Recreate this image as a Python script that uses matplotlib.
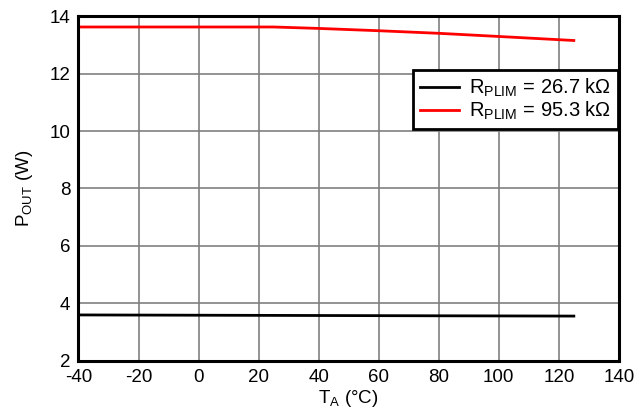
import matplotlib
matplotlib.use("Agg")
import matplotlib.pyplot as plt

temps_black = [-40, 0, 40, 80, 125]
pout_black = [3.60, 3.59, 3.58, 3.57, 3.56]
temps_red = [-40, 0, 25, 40, 60, 80, 100, 125]
pout_red = [13.62, 13.62, 13.62, 13.57, 13.49, 13.40, 13.29, 13.15]
xticks = [-40, -20, 0, 20, 40, 60, 80, 100, 120, 140]
yticks = [2, 4, 6, 8, 10, 12, 14]

plt.rcParams['font.family'] = ['Liberation Sans', 'DejaVu Sans']
plt.rcParams['axes.unicode_minus'] = False
fig = plt.figure(figsize=(6.38, 4.12), dpi=100)
ax = fig.add_axes([0.123, 0.124, 0.847, 0.837])
ax.plot(temps_black, pout_black, color='black', lw=2, label=r'R$_{\mathregular{PLIM}}$ = 26.7 kΩ')
ax.plot(temps_red, pout_red, color='#ff0000', lw=2, label=r'R$_{\mathregular{PLIM}}$ = 95.3 kΩ')
ax.set_xlim(-40, 140)
ax.set_ylim(2, 14)
ax.set_xticks(xticks)
ax.set_yticks(yticks)
ax.grid(True, color='#808080', lw=1.2)
for s in ax.spines.values():
    s.set_linewidth(2.2)
ax.tick_params(length=0, labelsize=13.5, pad=6)
ax.set_xlabel(r'T$_{\mathregular{A}}$ (°C)', fontsize=13.5, labelpad=1)
ax.set_ylabel(r'P$_{\mathregular{OUT}}$ (W)', fontsize=13.5, labelpad=10)
leg = ax.legend(loc='upper right', bbox_to_anchor=(0.998, 0.845), fontsize=14.5,
                frameon=True, fancybox=False, edgecolor='black', framealpha=1,
                handlelength=1.9, borderpad=0.35, labelspacing=0.05, handletextpad=0.5,
                borderaxespad=0.0)
leg.get_frame().set_linewidth(2)
fig.savefig('out.png', dpi=100)
